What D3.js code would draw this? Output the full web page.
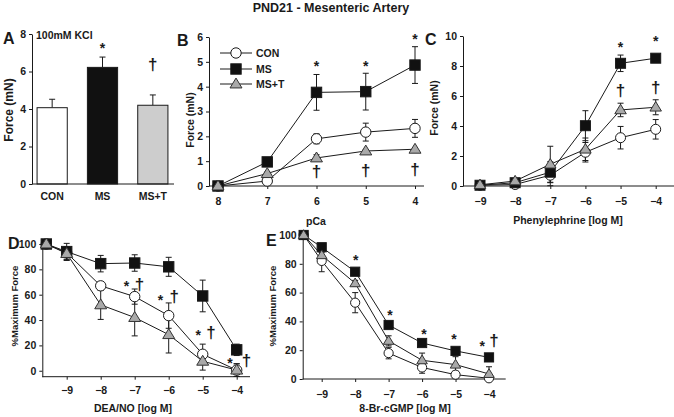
<!DOCTYPE html>
<html>
<head>
<meta charset="utf-8">
<script src="https://cdn.jsdelivr.net/npm/d3@7"></script>
<style>
body { margin: 0; background: #fff; }
svg { font-family: "Liberation Sans", Arial, sans-serif; font-weight: bold; }
</style>
</head>
<body>
<svg id="chart" width="674" height="417"></svg>
<script>
// ---- data ----
const groups = ["CON", "MS", "MS+T"];
const kclForce = [4.07, 6.22, 4.2];
const kclErr = [0.45, 0.55, 0.55];
const kclMarks = [{ x: "MS", y: 7.41, s: "*" }, { x: "MS+T", y: 6.3, s: "†" }];

const pCa = [8, 7, 6, 5, 4];
const bCon = [0, 0.2, 1.9, 2.17, 2.32];
const bConErr = [0.03, 0.06, 0.2, 0.36, 0.36];
const bMs = [0, 0.97, 3.77, 3.8, 4.87];
const bMsErr = [0.03, 0.15, 0.72, 0.74, 0.74];
const bMst = [0, 0.5, 1.13, 1.41, 1.48];
const bMstErr = [0.03, 0.06, 0.13, 0.05, 0.05];
const bMarks = [
    { x: 6, y: 4.97, s: "*" }, { x: 5, y: 4.95, s: "*" }, { x: 4, y: 6.05, s: "*" },
    { x: 6, y: 0.55, s: "†" }, { x: 5, y: 0.58, s: "†" }, { x: 4, y: 0.62, s: "†" }
];

const pe = [-9, -8, -7, -6, -5, -4];
const cCon = [0.05, 0.1, 0.72, 2.25, 3.22, 3.78];
const cConErr = [0.05, 0.1, 0.7, 0.65, 0.75, 0.65];
const cMs = [0.05, 0.22, 0.92, 4.02, 8.18, 8.52];
const cMsErr = [0.05, 0.1, 0.7, 1.0, 0.55, 0.25];
const cMst = [0.08, 0.33, 1.45, 2.45, 5.07, 5.25];
const cMstErr = [0.05, 0.1, 1.2, 0.75, 0.45, 0.5];
const cMarks = [
    { x: -5, y: 9.47, s: "*" }, { x: -4, y: 9.85, s: "*" },
    { x: -5, y: 6.29, s: "†" }, { x: -4, y: 6.5, s: "†" }
];

const dea = [-9.6, -9, -8, -7, -6, -5, -4];
const dCon = [100, 93, 67, 58.5, 43.5, 13, 0.5];
const dConErr = [0, 5, 3, 6, 10, 8, 5];
const dMs = [100, 94, 84.5, 85, 82, 59, 16.5];
const dMsErr = [0, 6.5, 6.5, 6.5, 7.5, 12.5, 4.5];
const dMst = [100, 92.5, 52, 42, 28.5, 7.5, 0.5];
const dMstErr = [0, 5.5, 11.5, 14.5, 14.5, 7, 5];
const dMarks = [
    { x: -7.24, y: 69, s: "*" }, { x: -6.86, y: 67.6, s: "†" },
    { x: -6.24, y: 58.4, s: "*" }, { x: -5.84, y: 57.6, s: "†" },
    { x: -5.13, y: 30.8, s: "*" }, { x: -4.76, y: 29.5, s: "†" },
    { x: -4.2, y: 8.4, s: "*" }, { x: -3.71, y: 7.1, s: "†" }
];

const brc = [-9.54, -9, -8, -7, -6, -5, -4];
const eCon = [100, 82, 53, 18, 8, 3, 0.5];
const eConErr = [0, 7.5, 7, 4, 4, 2.5, 2];
const eMs = [100, 91.5, 74.5, 37.5, 25, 19.5, 15];
const eMsErr = [0, 1.5, 1.5, 1.5, 1.5, 1.5, 1.5];
const eMst = [100, 86, 66.5, 26.5, 13, 10, 3.5];
const eMstErr = [0, 2, 2, 3.5, 5, 5.5, 5];
const eMarks = [
    { x: -7.98, y: 84.9, s: "*" }, { x: -6.96, y: 46.7, s: "*" },
    { x: -5.94, y: 33.3, s: "*" }, { x: -5.05, y: 29.9, s: "*" },
    { x: -4.2, y: 24.8, s: "*" }, { x: -3.85, y: 25.9, s: "†" }
];

// ---- drawing ----
const svg = d3.select("#chart");
const ink = "#1a1a1a";

function styleText(sel, size) {
    sel.selectAll("text")
        .attr("font-family", "'Liberation Sans', Arial, sans-serif")
        .attr("font-weight", "bold")
        .attr("font-size", size)
        .attr("fill", ink);
    sel.selectAll("line, path").attr("stroke", ink);
}

function label(x, y, txt, size, anchor = "middle", rot = false) {
    const t = svg.append("text")
        .attr("x", x).attr("y", y)
        .attr("text-anchor", anchor)
        .attr("font-size", size)
        .attr("fill", ink)
        .text(txt);
    if (rot) t.attr("transform", `rotate(-90,${x},${y})`);
    return t;
}

function drawMarks(g, marks, x, y) {
    g.selectAll(".sig")
        .data(marks)
        .enter()
        .append("text")
        .attr("x", d => x(d.x))
        .attr("y", d => y(d.y) + (d.s === "*" ? 8 : 4.5))
        .attr("text-anchor", "middle")
        .attr("font-size", d => d.s === "*" ? 14 : 17)
        .attr("fill", ink)
        .text(d => d.s);
}

function marker(g, type, cx, cy, r) {
    if (type === "circle") {
        g.append("circle").attr("cx", cx).attr("cy", cy).attr("r", r)
            .attr("fill", "#fff").attr("stroke", ink).attr("stroke-width", 1);
    } else if (type === "square") {
        g.append("rect").attr("x", cx - r).attr("y", cy - r)
            .attr("width", 2 * r).attr("height", 2 * r)
            .attr("fill", "#111").attr("stroke", ink);
    } else {
        const h = r * 1.9;
        g.append("path")
            .attr("d", `M${cx},${cy - h * 0.6}L${cx + r * 1.15},${cy + h * 0.4}L${cx - r * 1.15},${cy + h * 0.4}Z`)
            .attr("fill", "#a9a9a9").attr("stroke", "#333").attr("stroke-width", 1);
    }
}

function linePanel(p) {
    const g = svg.append("g");
    const x = d3.scaleLinear().domain(p.xDomain).range(p.xRange);
    const y = d3.scaleLinear().domain(p.yDomain).range(p.yRange);

    const ya = g.append("g")
        .attr("transform", `translate(${p.x0},0)`)
        .call(d3.axisLeft(y).tickValues(p.yTicks).tickSize(3).tickSizeOuter(0).tickPadding(3).tickFormat(d3.format("d")));
    styleText(ya, 10.5);

    const xa = g.append("g")
        .attr("transform", `translate(0,${p.y0})`)
        .call(d3.axisBottom(x).tickValues(p.xTicks).tickSize(3).tickPadding(p.xPad).tickFormat(d3.format("d")));
    xa.select(".domain").remove();
    styleText(xa, 10.5);
    g.append("line")
        .attr("x1", p.x0).attr("x2", p.xEnd)
        .attr("y1", p.y0).attr("y2", p.y0)
        .attr("stroke", ink);

    const line = d3.line().x(d => x(d[0])).y(d => y(d[1]));
    p.series.forEach(s => {
        g.append("path")
            .datum(p.xs.map((v, i) => [v, s.v[i]]))
            .attr("d", line)
            .attr("fill", "none")
            .attr("stroke", ink)
            .attr("stroke-width", 1);
    });
    p.series.forEach(s => {
        p.xs.forEach((v, i) => {
            const e = s.e[i];
            if (!e) return;
            const cx = x(v);
            g.append("line").attr("x1", cx).attr("x2", cx)
                .attr("y1", y(s.v[i] - e)).attr("y2", y(s.v[i] + e))
                .attr("stroke", ink);
            [s.v[i] - e, s.v[i] + e].forEach(w => {
                g.append("line").attr("x1", cx - 3).attr("x2", cx + 3)
                    .attr("y1", y(w)).attr("y2", y(w)).attr("stroke", ink);
            });
        });
    });
    p.series.forEach(s => {
        p.xs.forEach((v, i) => marker(g, s.type, x(v), y(s.v[i]), p.r));
    });
    drawMarks(g, p.marks, x, y);
    return { x, y };
}

// title
label(331, 12, "PND21 - Mesenteric Artery", 12.5);

// panel A - bar chart
{
    const g = svg.append("g");
    const x = d3.scaleBand().domain(groups).range([27, 178]).paddingInner(0.4).paddingOuter(0.2);
    const y = d3.scaleLinear().domain([0, 8]).range([184, 34]);
    const fills = ["#fff", "#111", "#cdcdcd"];

    const ya = g.append("g").attr("transform", "translate(32,0)")
        .call(d3.axisLeft(y).tickValues([0, 2, 4, 6, 8]).tickSize(3).tickSizeOuter(0).tickPadding(3));
    styleText(ya, 10.5);

    groups.forEach((c, i) => {
        const cx = x(c) + x.bandwidth() / 2;
        g.append("line").attr("x1", cx).attr("x2", cx)
            .attr("y1", y(kclForce[i])).attr("y2", y(kclForce[i] + kclErr[i]))
            .attr("stroke", ink);
        g.append("line").attr("x1", cx - 3).attr("x2", cx + 3)
            .attr("y1", y(kclForce[i] + kclErr[i])).attr("y2", y(kclForce[i] + kclErr[i]))
            .attr("stroke", ink);
    });
    g.selectAll(".bar")
        .data(groups)
        .enter()
        .append("rect")
        .attr("x", d => x(d))
        .attr("y", (d, i) => y(kclForce[i]))
        .attr("width", x.bandwidth())
        .attr("height", (d, i) => y(0) - y(kclForce[i]))
        .attr("fill", (d, i) => fills[i])
        .attr("stroke", ink)
        .attr("stroke-width", 1);
    g.append("line").attr("x1", 32).attr("x2", 174).attr("y1", 184).attr("y2", 184).attr("stroke", ink);
    g.selectAll(".cat")
        .data(groups)
        .enter()
        .append("text")
        .attr("x", d => x(d) + x.bandwidth() / 2)
        .attr("y", 200)
        .attr("text-anchor", "middle")
        .attr("font-size", 10.5)
        .attr("fill", ink)
        .text(d => d);
    drawMarks(g, kclMarks, d => x(d) + x.bandwidth() / 2, y);
    label(36, 39, "100mM KCl", 10.5, "start");
    label(13, 110, "Force (mN)", 12, "middle", true);
    label(3, 44, "A", 16, "start");
}

// panel B
linePanel({
    xs: pCa, xDomain: [8, 4], xRange: [218, 415], yDomain: [0, 6], yRange: [186, 37],
    x0: 209, y0: 186, xEnd: 424, xPad: 9, r: 5.2,
    yTicks: [0, 1, 2, 3, 4, 5, 6], xTicks: pCa,
    series: [
        { v: bCon, e: bConErr, type: "circle" },
        { v: bMs, e: bMsErr, type: "square" },
        { v: bMst, e: bMstErr, type: "triangle" }
    ],
    marks: bMarks
});
label(194, 120, "Force (mN)", 10.5, "middle", true);
label(177, 46, "B", 16, "start");
label(316, 225, "pCa", 10.5);
// legend
[["CON", "circle", 53], ["MS", "square", 69], ["MS+T", "triangle", 84]].forEach(([t, type, ly]) => {
    svg.append("line").attr("x1", 220).attr("x2", 252).attr("y1", ly).attr("y2", ly).attr("stroke", ink);
    marker(svg, type, 236, ly, 5.2);
    label(256, ly + 4, t, 10.5, "start");
});

// panel C
linePanel({
    xs: pe, xDomain: [-9, -4], xRange: [480, 655.7], yDomain: [0, 10], yRange: [186, 36],
    x0: 463, y0: 186, xEnd: 674, xPad: 9, r: 5,
    yTicks: [0, 2, 4, 6, 8, 10], xTicks: pe,
    series: [
        { v: cCon, e: cConErr, type: "circle" },
        { v: cMs, e: cMsErr, type: "square" },
        { v: cMst, e: cMstErr, type: "triangle" }
    ],
    marks: cMarks
});
label(438, 108, "Force (mN)", 10.5, "middle", true);
label(425, 45, "C", 16, "start");
label(568, 224, "Phenylephrine [log M]", 10.5);

// panel D
linePanel({
    xs: dea, xDomain: [-9, -4], xRange: [66.7, 236.7], yDomain: [-4.7, 100], yRange: [376.7, 244],
    x0: 42.3, y0: 376.7, xEnd: 250, xPad: 6.5, r: 5.2,
    yTicks: [0, 20, 40, 60, 80, 100], xTicks: [-9, -8, -7, -6, -5, -4],
    series: [
        { v: dCon, e: dConErr, type: "circle" },
        { v: dMs, e: dMsErr, type: "square" },
        { v: dMst, e: dMstErr, type: "triangle" }
    ],
    marks: dMarks
});
label(18, 306, "%Maximum Force", 9.5, "middle", true);
label(8, 249, "D", 16, "start");
label(133, 412, "DEA/NO [log M]", 10.5);

// panel E
linePanel({
    xs: brc, xDomain: [-9, -4], xRange: [321.7, 489], yDomain: [0, 100], yRange: [379, 235],
    x0: 302.7, y0: 379, xEnd: 505.7, xPad: 8.5, r: 4.6,
    yTicks: [0, 20, 40, 60, 80, 100], xTicks: [-9, -8, -7, -6, -5, -4],
    series: [
        { v: eCon, e: eConErr, type: "circle" },
        { v: eMs, e: eMsErr, type: "square" },
        { v: eMst, e: eMstErr, type: "triangle" }
    ],
    marks: eMarks
});
label(276, 306, "%Maximum Force", 9.5, "middle", true);
label(266, 246, "E", 16, "start");
label(405, 412, "8-Br-cGMP [log M]", 10.5);
</script>
</body>
</html>
